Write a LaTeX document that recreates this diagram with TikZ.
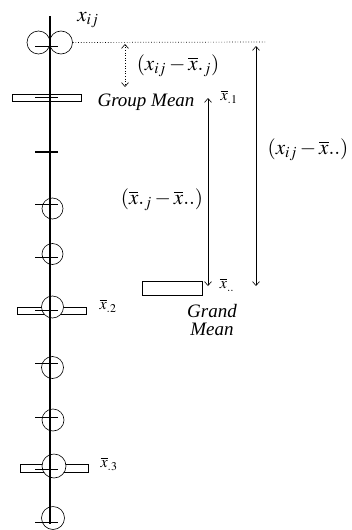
\documentclass[tikz,border=0pt]{standalone}
\usepackage{mathptmx}
\usepackage{fontspec}
\setmainfont{Liberation Serif}
\usetikzlibrary{arrows.meta}
\begin{document}
\begin{tikzpicture}[x=1pt,y=-1pt,
  axisline/.style={line width=1.3pt},
  obs/.style={circle,draw,fill=white,line width=0.6pt,inner sep=0pt},
  tickmark/.style={line width=0.8pt},
  meanbar/.style={draw,line width=0.8pt,fill=white},
  lbl/.style={inner sep=0pt,font=\fontsize{21}{23}\selectfont},
  small/.style={inner sep=0pt,font=\fontsize{16}{18}\selectfont},
  wordlbl/.style={inner sep=0pt,font=\fontsize{19}{21}\selectfont\itshape},
  dbl/.style={{Straight Barb[length=4pt,width=7pt]}-{Straight Barb[length=4pt,width=7pt]},line width=0.6pt}
]
\useasboundingbox (0,0) rectangle (352,530);
% group mean bars
\draw[meanbar] (12,94) rectangle (81,101);
\draw[meanbar] (17,307) rectangle (86,314);
\draw[meanbar] (20,464) rectangle (88,472);
\draw[meanbar] (142,281) rectangle (202,295);
% observations
\node[obs,minimum size=23pt] (o1a) at (38.5,42.5) {};
\node[obs,minimum size=23pt] (o1b) at (61,42.5) {};
\node[obs,minimum size=21pt] (o2) at (52.5,208.5) {};
\node[obs,minimum size=21pt] (o3) at (52.5,254) {};
\node[obs,minimum size=22pt] (o4) at (52.5,307) {};
\node[obs,minimum size=22pt] (o5) at (52.5,367.5) {};
\node[obs,minimum size=22pt] (o6) at (53,420) {};
\node[obs,minimum size=24pt] (o7) at (54,466) {};
\node[obs,minimum size=23pt] (o8) at (53,518) {};
% axis
\coordinate (atop) at (50,16);
\coordinate (abot) at (50,524);
\draw[axisline] (atop) -- (abot);
% ticks
\foreach \y in {46,97,204,257,310,363,417,469,522}
  \draw[tickmark] (35,\y) -- (58,\y);
\draw[line width=1.2pt] (35,152) -- (58,152);
% dotted reference line
\coordinate (dotend) at (265,42);
\draw[dotted,line width=0.7pt] (o1b.east) -- (dotend);
% arrows
\coordinate (d1) at (125,44);
\coordinate (d2) at (125,87);
\draw[dbl,dotted] (d1) -- (d2);
\coordinate (a1) at (208,98);
\coordinate (a2) at (208,286);
\draw[dbl] (a1) -- (a2);
\coordinate (b1) at (256,46);
\coordinate (b2) at (256,286);
\draw[dbl] (b1) -- (b2);
% labels
\node[lbl] (xij) at (88,20) {$x_{ij}$};
\node[lbl] (dev1) at (178,66) {$(x_{ij}-\overline{x}._{j})$};
\node[wordlbl] (gm) at (146,102) {Group Mean};
\node[small] (m1) at (229,97) {$\overline{x}_{.1}$};
\node[lbl] (dev3) at (308,150) {$(x_{ij}-\overline{x}..)$};
\node[lbl] (dev2) at (162,200) {$(\overline{x}._{j}-\overline{x}..)$};
\node[small] (gmv) at (227,285) {$\overline{x}_{..}$};
\node[wordlbl] (grand) at (212,311) {Grand};
\node[wordlbl] (mean) at (212,329) {Mean};
\node[small] (m2) at (108,306) {$\overline{x}_{.2}$};
\node[small] (m3) at (109,464) {$\overline{x}_{.3}$};
\end{tikzpicture}
\end{document}
